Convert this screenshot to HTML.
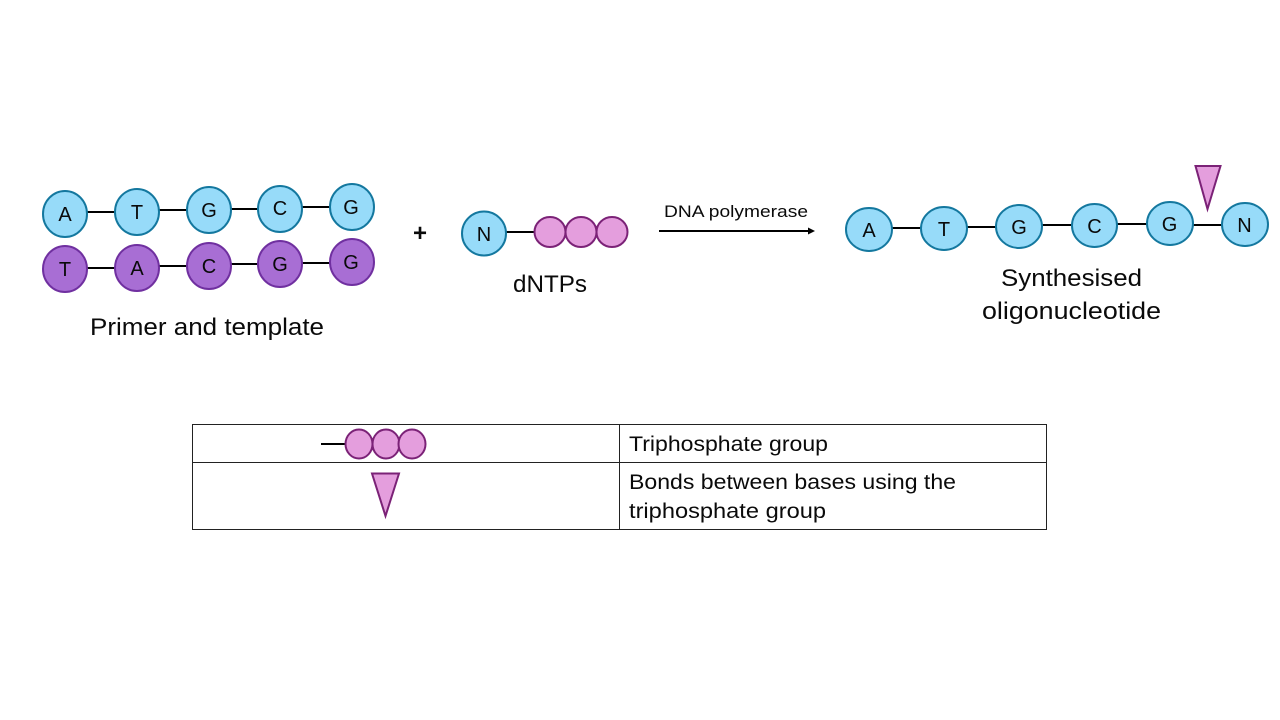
<!DOCTYPE html>
<html>
<head>
<meta charset="utf-8">
<style>
html,body{margin:0;padding:0;background:#fff;width:1280px;height:720px;overflow:hidden}
svg{display:block}
text{font-family:"Liberation Sans",sans-serif;fill:#0a0a0a}
.b{stroke:#14789f;stroke-width:2;fill:#97dbf9}
.p{stroke:#7030a0;stroke-width:2;fill:#a86ed4}
.k{stroke:#7b2277;stroke-width:2;fill:#e49edd}
.l{stroke:#000;stroke-width:2;fill:none}
.t{stroke:#222;stroke-width:1;fill:none}
.n{font-size:20px;text-anchor:middle}
</style>
</head>
<body>
<svg width="1280" height="720" viewBox="0 0 1280 720" xmlns="http://www.w3.org/2000/svg">
<rect width="1280" height="720" fill="#fff"/>
<!-- primer connectors -->
<path class="l" d="M87 212H115M159 210H187M231 209H258M302 207H330"/>
<path class="l" d="M87 268H115M159 266H187M231 264H258M302 263H330"/>
<!-- primer -->
<ellipse class="b" cx="65" cy="214" rx="22" ry="23"/><text class="n" x="65" y="221">A</text>
<ellipse class="b" cx="137" cy="212" rx="22" ry="23"/><text class="n" x="137" y="219">T</text>
<ellipse class="b" cx="209" cy="210" rx="22" ry="23"/><text class="n" x="209" y="217">G</text>
<ellipse class="b" cx="280" cy="209" rx="22" ry="23"/><text class="n" x="280" y="215">C</text>
<ellipse class="b" cx="352" cy="207" rx="22" ry="23"/><text class="n" x="351" y="214">G</text>
<!-- template -->
<ellipse class="p" cx="65" cy="269" rx="22" ry="23"/><text class="n" x="65" y="276">T</text>
<ellipse class="p" cx="137" cy="268" rx="22" ry="23"/><text class="n" x="137" y="275">A</text>
<ellipse class="p" cx="209" cy="266" rx="22" ry="23"/><text class="n" x="209" y="273">C</text>
<ellipse class="p" cx="280" cy="264" rx="22" ry="23"/><text class="n" x="280" y="271">G</text>
<ellipse class="p" cx="352" cy="262" rx="22" ry="23"/><text class="n" x="351" y="269">G</text>
<text x="90" y="335" font-size="24" textLength="234" lengthAdjust="spacingAndGlyphs">Primer and template</text>
<!-- plus -->
<text x="420" y="241" font-size="24" text-anchor="middle" font-weight="bold">+</text>
<!-- dNTP -->
<path class="l" d="M506 232H535"/>
<ellipse class="b" cx="484" cy="233.500" rx="22" ry="22"/><text class="n" x="484" y="241">N</text>
<ellipse class="k" cx="550" cy="232" rx="15.500" ry="15"/>
<ellipse class="k" cx="581" cy="232" rx="15.500" ry="15"/>
<ellipse class="k" cx="612" cy="232" rx="15.500" ry="15"/>
<text x="513" y="292" font-size="24" textLength="74" lengthAdjust="spacingAndGlyphs">dNTPs</text>
<!-- arrow -->
<text x="664" y="217" font-size="17" textLength="144" lengthAdjust="spacingAndGlyphs">DNA polymerase</text>
<path class="l" d="M659 231H809"/>
<path d="M808 227.500L815 231L808 234.500Z" fill="#000"/>
<!-- product connectors -->
<path class="l" d="M892 228H921M967 227H996M1042 225H1072M1117 224H1147M1193 225H1222"/>
<ellipse class="b" cx="869" cy="229.500" rx="23" ry="21.500"/><text class="n" x="869" y="237">A</text>
<ellipse class="b" cx="944" cy="228.500" rx="23" ry="21.500"/><text class="n" x="944" y="236">T</text>
<ellipse class="b" cx="1019" cy="226.500" rx="23" ry="21.500"/><text class="n" x="1019" y="234">G</text>
<ellipse class="b" cx="1094.500" cy="225.500" rx="22.500" ry="21.500"/><text class="n" x="1094.500" y="233">C</text>
<ellipse class="b" cx="1170" cy="223.500" rx="23" ry="21.500"/><text class="n" x="1169.500" y="231">G</text>
<ellipse class="b" cx="1245" cy="224.500" rx="23" ry="21.500"/><text class="n" x="1244.500" y="232">N</text>
<path class="k" d="M1195.500 166H1220.500L1207.500 209Z"/>
<text x="1001" y="286" font-size="24" textLength="141" lengthAdjust="spacingAndGlyphs">Synthesised</text>
<text x="982" y="319" font-size="24" textLength="179" lengthAdjust="spacingAndGlyphs">oligonucleotide</text>
<!-- table -->
<path class="t" d="M192.500 424.500H1046.500M192.500 462.500H1046.500M192.500 529.500H1046.500M192.500 424V530M619.500 424V530M1046.500 424V530"/>
<path class="l" d="M321 444H346"/>
<ellipse class="k" cx="359" cy="444" rx="13.500" ry="14.500"/>
<ellipse class="k" cx="386" cy="444" rx="13.500" ry="14.500"/>
<ellipse class="k" cx="412" cy="444" rx="13.500" ry="14.500"/>
<path class="k" d="M372 473.500H399L385.500 516Z"/>
<text x="629" y="451" font-size="21" textLength="199" lengthAdjust="spacingAndGlyphs">Triphosphate group</text>
<text x="629" y="489" font-size="21" textLength="327" lengthAdjust="spacingAndGlyphs">Bonds between bases using the</text>
<text x="629" y="518" font-size="21" textLength="197" lengthAdjust="spacingAndGlyphs">triphosphate group</text>
</svg>
</body>
</html>
